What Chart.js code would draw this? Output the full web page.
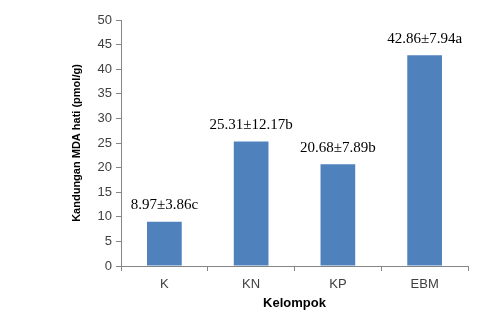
<!DOCTYPE html>
<html>
<head>
<meta charset="utf-8">
<script src="https://cdn.jsdelivr.net/npm/chart.js@4/dist/chart.umd.min.js"></script>
<style>
  html, body { margin: 0; padding: 0; background: #fff; }
  #wrap { width: 479px; height: 320px; }
</style>
</head>
<body>
<div id="wrap"><canvas id="myChart"></canvas></div>
<script>
// data
let groups = ["K", "KN", "KP", "EBM"];
let mdaValues = [8.97, 25.31, 20.68, 42.86];
let valueLabels = ["8.97\u00b13.86c", "25.31\u00b112.17b", "20.68\u00b17.89b", "42.86\u00b17.94a"];
let yTicks = [0, 5, 10, 15, 20, 25, 30, 35, 40, 45, 50];

let axisGrey = "#868686";

// text over each bar
let barText = {
  id: "barText",
  afterDatasetsDraw(chart) {
    let ctx = chart.ctx;
    let meta = chart.getDatasetMeta(0);
    ctx.save();
    ctx.font = "15px 'Liberation Serif'";
    ctx.fillStyle = "#000";
    ctx.textAlign = "center";
    ctx.textBaseline = "bottom";
    meta.data.forEach((bar, i) => {
      ctx.fillText(valueLabels[i], bar.x, bar.y - 9);
    });
    ctx.restore();
  }
};

let mychart = document.getElementById("myChart").getContext("2d");
let barChart = new Chart(mychart, {
  type: "bar",
  data: {
    labels: groups,
    datasets: [
      {
        label: "MDA",
        data: mdaValues,
        backgroundColor: "#4f81bd",
        borderWidth: 0,
        barPercentage: 1,
        categoryPercentage: 0.4,
      },
    ],
  },
  options: {
    responsive: true,
    maintainAspectRatio: false,
    animation: false,
    layout: { padding: { left: 66, right: 11, top: 20, bottom: 0 } },
    plugins: {
      legend: { display: false },
      tooltip: { enabled: false },
    },
    scales: {
      x: {
        grid: {
          drawOnChartArea: false,
          drawTicks: true,
          tickLength: 5,
          color: axisGrey,
          offset: true,
        },
        border: { color: axisGrey },
        ticks: {
          color: "#404040",
          font: { family: "'Liberation Sans'", size: 13 },
          padding: 6,
        },
        title: {
          display: true,
          text: "Kelompok",
          color: "#000",
          font: { family: "'Liberation Sans'", size: 13, weight: "bold" },
          padding: { top: 2, bottom: 9 },
        },
        afterFit(scale) {
          scale.height = 54;
        },
      },
      y: {
        min: 0,
        max: 50,
        afterBuildTicks(scale) {
          scale.ticks = yTicks.map((v) => ({ value: v }));
        },
        grid: {
          drawOnChartArea: false,
          drawTicks: true,
          tickLength: 5,
          color: axisGrey,
        },
        border: { color: axisGrey },
        ticks: {
          color: "#404040",
          font: { family: "'Liberation Sans'", size: 13 },
          padding: 4,
        },
        title: {
          display: true,
          text: "Kandungan MDA hati (pmol/g)",
          color: "#000",
          font: { family: "'Liberation Sans'", size: 11, weight: "bold" },
          padding: { top: 4, bottom: 4 },
        },
        afterFit(scale) {
          scale.width = 55;
        },
      },
    },
  },
  plugins: [barText],
});
</script>
</body>
</html>
